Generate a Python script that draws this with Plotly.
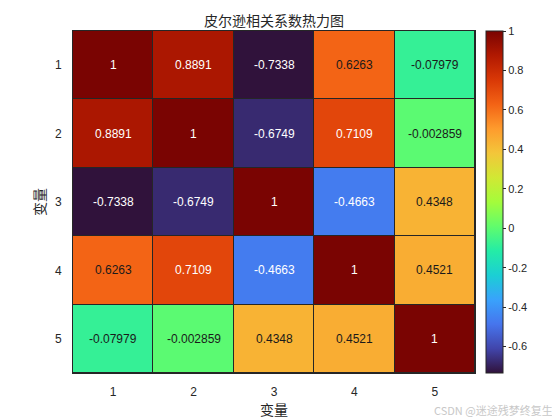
import plotly.graph_objects as go

labels = ["1", "2", "3", "4", "5"]
corr = [
    [1, 0.8891, -0.7338, 0.6263, -0.07979],
    [0.8891, 1, -0.6749, 0.7109, -0.002859],
    [-0.7338, -0.6749, 1, -0.4663, 0.4348],
    [0.6263, 0.7109, -0.4663, 1, 0.4521],
    [-0.07979, -0.002859, 0.4348, 0.4521, 1],
]
cbar_ticks = [-0.6, -0.4, -0.2, 0, 0.2, 0.4, 0.6, 0.8, 1]

zmin = min(min(r) for r in corr)
zmax = max(max(r) for r in corr)
idx = list(range(len(labels)))

fig = go.Figure(
    go.Heatmap(
        z=corr,
        x=idx,
        y=idx,
        colorscale="Turbo",
        zmin=zmin,
        zmax=zmax,
        xgap=1,
        ygap=1,
        hoverinfo="skip",
        colorbar=dict(
            x=1.027,
            xanchor="left",
            xpad=0,
            y=0.5,
            yanchor="middle",
            ypad=0,
            len=1,
            thickness=17,
            outlinecolor="#262626",
            outlinewidth=1,
            tickvals=cbar_ticks,
            ticktext=[f"{t:g}" for t in cbar_ticks],
            ticks="outside",
            ticklen=3,
            tickcolor="#262626",
            tickfont=dict(size=11, color="#262626"),
        ),
    )
)

# cell labels, white on dark cells
for i, row in enumerate(corr):
    for j, v in enumerate(row):
        fig.add_annotation(
            x=j,
            y=i,
            text=f"{v:.4g}",
            showarrow=False,
            font=dict(size=12, color="white" if (v > 0.7 or v < -0.4) else "#1a1a1a"),
        )

cjk = dict(family="Noto Sans CJK SC", size=14, color="#262626")
fig.add_annotation(
    xref="paper", yref="paper", x=1.2, y=-0.08,
    xanchor="right", yanchor="top",
    text="CSDN @迷途残梦终复生", showarrow=False,
    font=dict(size=11, color="#c8c8c8", family="Noto Sans CJK SC"),
)

# page body has an 8px margin, so the figure is offset by 8px in the window
fig.update_layout(
    width=552,
    height=412,
    margin=dict(l=65, r=85, t=23, b=47),
    paper_bgcolor="white",
    plot_bgcolor="#262626",
    font=dict(family="Liberation Sans, Arial, sans-serif", color="#262626", size=12),
    title=dict(
        text="皮尔逊相关系数热力图",
        x=0.5,
        xref="paper",
        y=1,
        yref="paper",
        yanchor="bottom",
        pad=dict(b=5),
        font=cjk,
    ),
    xaxis=dict(
        automargin=False,
        title=dict(text="变量", font=cjk, standoff=4),
        tickvals=idx,
        ticktext=labels,
        range=[-0.5, len(labels) - 0.5],
        showgrid=False,
        zeroline=False,
        ticks="",
        ticklabelstandoff=8,
        showline=True,
        mirror=True,
        linecolor="#262626",
        linewidth=1,
        tickfont=dict(size=12),
    ),
    yaxis=dict(
        automargin=False,
        title=dict(text="变量", font=cjk, standoff=6),
        tickvals=idx,
        ticktext=labels,
        range=[len(labels) - 0.5, -0.5],
        showgrid=False,
        zeroline=False,
        ticks="",
        ticklabelstandoff=8,
        showline=True,
        mirror=True,
        linecolor="#262626",
        linewidth=1,
        tickfont=dict(size=12),
    ),
)

fig.write_html("out.html")
